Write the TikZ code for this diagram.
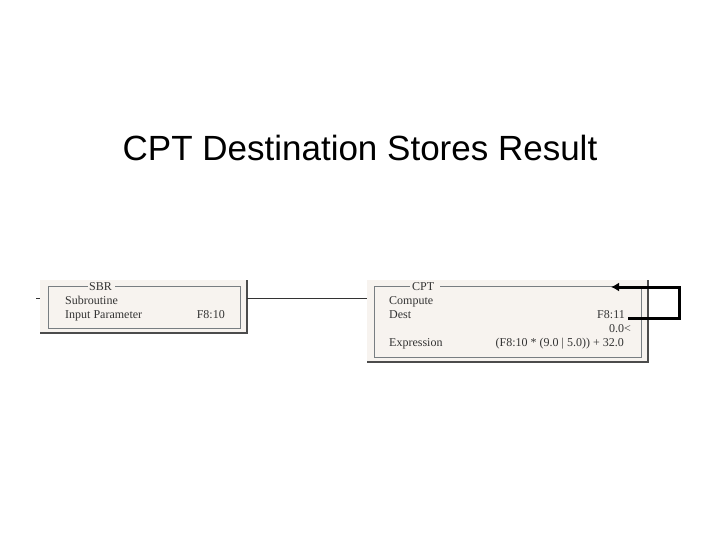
\documentclass[tikz,border=0pt]{standalone}
\usepackage{fontspec}
\usetikzlibrary{arrows.meta}
\setmainfont{Liberation Serif}
\newfontfamily\titlefont{Liberation Sans}
\begin{document}
\begin{tikzpicture}[x=1pt,y=-1pt,
  panel/.style={fill=black!17!brown!8!white, draw=none},
  frame/.style={draw=black!70!cyan!30!gray, line width=1pt},
  lbl/.style={anchor=base west, inner sep=0pt, font=\fontsize{12}{12}\selectfont, text=black!80},
  rlbl/.style={anchor=base east, inner sep=0pt, font=\fontsize{12}{12}\selectfont, text=black!80}]
\useasboundingbox (0,0) rectangle (720,540);
\node[anchor=base, font=\titlefont\fontsize{35}{35}\selectfont] (title) at (360,161) {CPT Destination Stores Result};
% SBR box
\fill[panel] (40,280) rectangle (247,333);
\draw[gray!60!black, line width=1.2pt] (247,280) -- (247,333) -- (40,333);
\draw[frame] (88,286) -- (48,286) -- (48,328) -- (240,328) -- (240,286) -- (115,286);
\node[lbl] (sbr) at (89,290) {SBR};
\node[lbl] (sub) at (65,304) {Subroutine};
\node[lbl] (inp) at (65,318) {Input Parameter};
\node[rlbl] (f810) at (225,318) {F8:10};
\coordinate (lw) at (36,298);
\coordinate (sbrR) at (247,298);
\coordinate (cptL) at (367,298);
\draw[black!80] (lw) -- (40,298);
\draw[black!80] (sbrR) -- (cptL);
% CPT box
\fill[panel] (367,280) rectangle (648,362);
\draw[gray!60!black, line width=1.2pt] (648,280) -- (648,362) -- (367,362);
\draw[frame] (410,286) -- (374,286) -- (374,357) -- (641,357) -- (641,286) -- (440,286);
\node[lbl] (cpt) at (412,290) {CPT};
\node[lbl] (comp) at (389,304) {Compute};
\node[lbl] (dest) at (389,318) {Dest};
\node[rlbl] (f811) at (625,318) {F8:11};
\node[rlbl] (zero) at (631,332) {0.0<};
\node[lbl] (expr) at (389,346) {Expression};
\node[rlbl] (ex) at (624,346) {(F8:10 * (9.0 | 5.0)) + 32.0};
\coordinate (a1) at (628,318);
\coordinate (a2) at (611,287);
\draw[line width=3pt, -{Latex[length=8pt,width=9pt]}] (a1) -- (679,318) -- (679,287) -- (a2);
\end{tikzpicture}
\end{document}
